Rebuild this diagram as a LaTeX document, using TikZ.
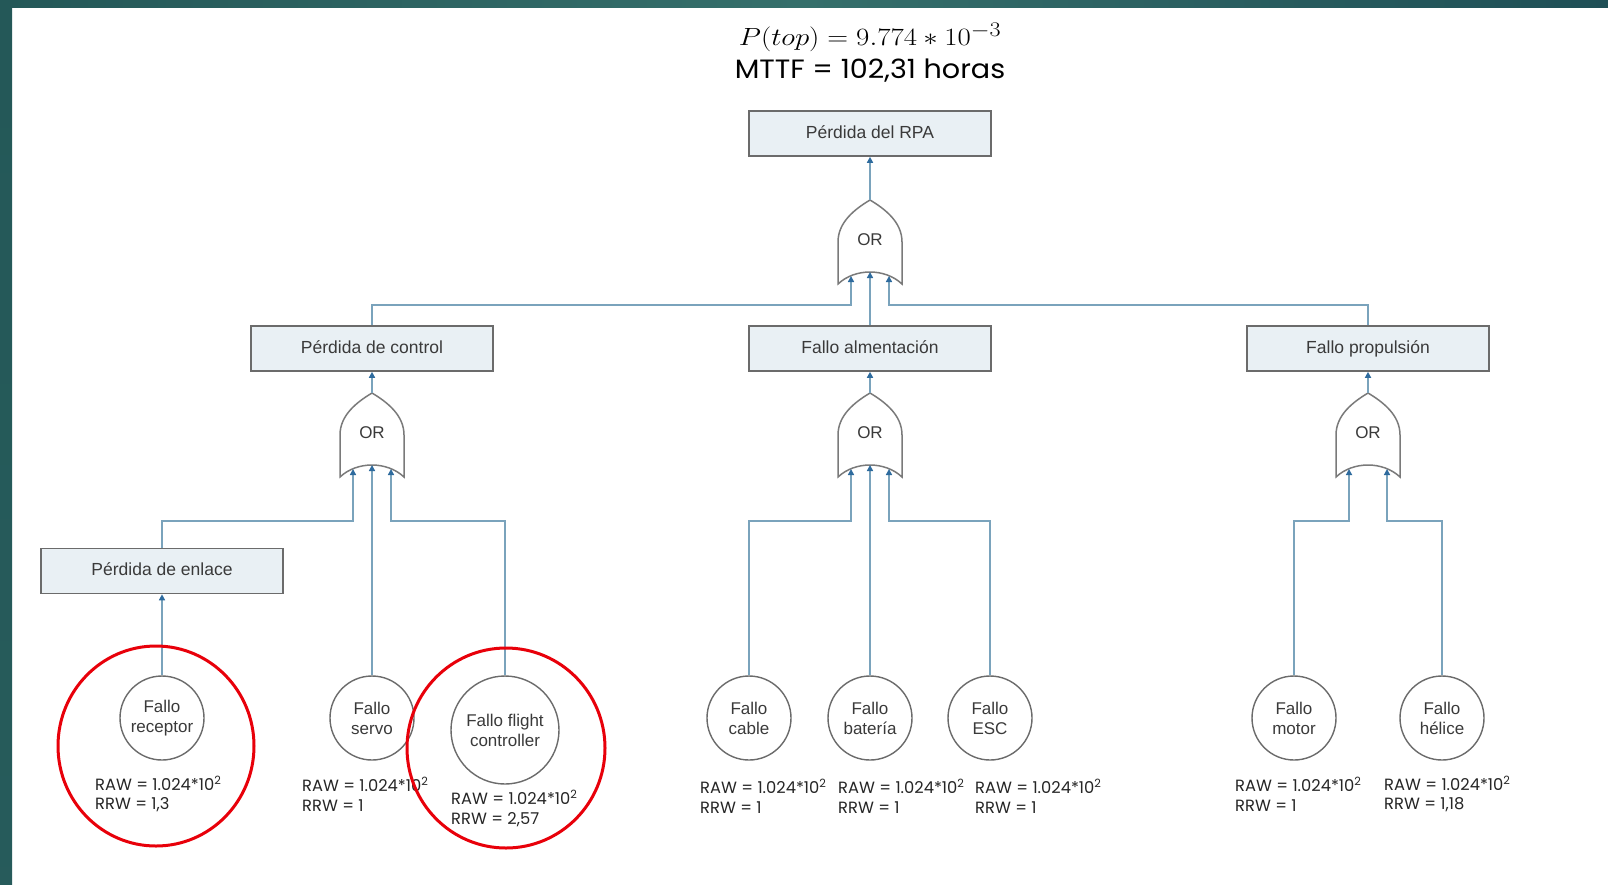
\documentclass[tikz,border=0pt]{standalone}
\usepackage{fontspec}
\setmainfont{Liberation Sans}
\newfontfamily\gothic{Poppins}
\usetikzlibrary{arrows.meta,calc,shapes.geometric}
\definecolor{tealA}{HTML}{245858}
\definecolor{tealB}{HTML}{356F6B}
\definecolor{tealC}{HTML}{1F4F56}
\definecolor{linkc}{HTML}{7AA3BC}
\definecolor{tipc}{HTML}{2E6B9E}
\definecolor{boxfill}{HTML}{E9F0F4}
\definecolor{boxdraw}{HTML}{6B6B6B}
\definecolor{txt}{HTML}{3A3A3A}
\definecolor{hlred}{HTML}{E8000A}
\begin{document}
\begin{tikzpicture}[x=1pt,y=-1pt,
  evt/.style={draw=boxdraw, fill=boxfill, line width=1.6pt, minimum width=242pt, minimum height=45pt,
    font=\fontsize{17.5}{19}\selectfont, text=txt, inner sep=0pt, text height=12.5pt, text depth=3.5pt},
  basic/.style={circle, draw=boxdraw, fill=white, line width=1.4pt, minimum size=84pt, align=center,
    font=\fontsize{17}{20}\selectfont, text=txt, inner sep=0pt},
  link/.style={draw=linkc, line width=1.8pt},
  arr/.style={link, -{Triangle[length=6pt,width=6pt,color=tipc]}},
  meas/.style={font=\gothic\fontsize{16.3}{19.5}\selectfont, align=left, anchor=west, inner sep=0pt, text=black!85},
  hl/.style={ellipse, draw=hlred, line width=3pt, inner sep=0pt},
  gatedraw/.style={draw=boxdraw!90, fill=white, line width=1.5pt},
  orgate/.pic={
    \draw[gatedraw] (-32,0) -- (-32,-42) .. controls (-32,-62) and (-15,-75) .. (0,-84)
       .. controls (15,-75) and (32,-62) .. (32,-42) -- (32,0)
       .. controls (15,-16) and (-15,-16) .. (-32,0) -- cycle;
    \node[font=\fontsize{17}{18}\selectfont, text=txt] (-lbl) at (0,-44) {OR};
    \coordinate (-top) at (0,-84);
    \coordinate (-in1) at (-19,-8);
    \coordinate (-in2) at (0,-12);
    \coordinate (-in3) at (19,-8);
  }]
\useasboundingbox (0,0) rectangle (1608,884);
\fill[white] (0,0) rectangle (1608,884);
\shade[left color=tealA, right color=tealC, middle color=tealB] (0,0) rectangle (1608,7);
\shade[top color=tealA, bottom color=tealA!85!tealB] (0,0) rectangle (12,884);

% titles
\node (ptop) at (870,37) {\scalebox{1.16}[1]{\fontsize{32.5}{34}\selectfont $P(top) = 9.774 \ast 10^{-3}$}};
\node (mttf) at (870,71) {\scalebox{1.08}[1]{\gothic\fontsize{26.5}{30}\selectfont MTTF = 102,31 horas}};

% events
\node[evt] (top) at (870,133.5) {Pérdida del RPA};
\node[evt] (ctl) at (372,348.5) {Pérdida de control};
\node[evt] (alm) at (870,348.5) {Fallo almentación};
\node[evt] (prop) at (1368,348.5) {Fallo propulsión};
\node[evt] (enl) at (162,571) {Pérdida de enlace};

% gates
\pic (gt) at (870,284) {orgate};
\pic (gc) at (372,477) {orgate};
\pic (ga) at (870,477) {orgate};
\pic (gp) at (1368,477) {orgate};

% basic events
\node[basic] (rec) at (162,718) {Fallo\\receptor};
\node[basic] (servo) at (372,718) {Fallo\\servo};
\node[basic, minimum size=108pt] (fc) at (505,730) {Fallo flight\\controller};
\node[basic] (cab) at (749,718) {Fallo\\cable};
\node[basic] (bat) at (870,718) {Fallo\\batería};
\node[basic] (esc) at (990,718) {Fallo\\ESC};
\node[basic] (mot) at (1294,718) {Fallo\\motor};
\node[basic] (hel) at (1442,718) {Fallo\\hélice};

\coordinate (bus1) at (0,305);
\coordinate (bus2) at (0,521);

% connectors
\draw[arr] (gt-top) -- (top);
\draw[arr] (ctl.north) |- (bus1 -| gt-in1) -- (gt-in1);
\draw[arr] (alm.north) -- (gt-in2);
\draw[arr] (prop.north) |- (bus1 -| gt-in3) -- (gt-in3);

\draw[arr] (gc-top) -- (ctl);
\draw[arr] (ga-top) -- (alm);
\draw[arr] (gp-top) -- (prop);

\draw[arr] (enl.north) |- (bus2 -| gc-in1) -- (gc-in1);
\draw[arr] (servo.north) -- (gc-in2);
\draw[arr] (fc.north) |- (bus2 -| gc-in3) -- (gc-in3);
\draw[arr] (rec.north) -- (enl.south);

\draw[arr] (cab.north) |- (bus2 -| ga-in1) -- (ga-in1);
\draw[arr] (bat.north) -- (ga-in2);
\draw[arr] (esc.north) |- (bus2 -| ga-in3) -- (ga-in3);

\draw[arr] (mot.north) |- (bus2 -| gp-in1) -- (gp-in1);
\draw[arr] (hel.north) |- (bus2 -| gp-in3) -- (gp-in3);

% measures
\node[meas] (m1) at (95,794) {RAW = 1.024*10\textsuperscript{2}\\RRW = 1,3};
\node[meas] (m2) at (302,794) {RAW = 1.024*10\textsuperscript{2}\\RRW = 1};
\node[meas] (m3) at (451,808.5) {RAW = 1.024*10\textsuperscript{2}\\RRW = 2,57};
\node[meas] (m4) at (700,796) {RAW = 1.024*10\textsuperscript{2}\\RRW = 1};
\node[meas] (m5) at (838,796) {RAW = 1.024*10\textsuperscript{2}\\RRW = 1};
\node[meas] (m6) at (975,796) {RAW = 1.024*10\textsuperscript{2}\\RRW = 1};
\node[meas] (m7) at (1235,794) {RAW = 1.024*10\textsuperscript{2}\\RRW = 1};
\node[meas] (m8) at (1384,794) {RAW = 1.024*10\textsuperscript{2}\\RRW = 1,18};

% highlights
\node[hl, minimum width=196pt, minimum height=200pt] (h1) at (156,746) {};
\node[hl, minimum width=198pt, minimum height=200pt] (h2) at (506,748) {};
\end{tikzpicture}
\end{document}
